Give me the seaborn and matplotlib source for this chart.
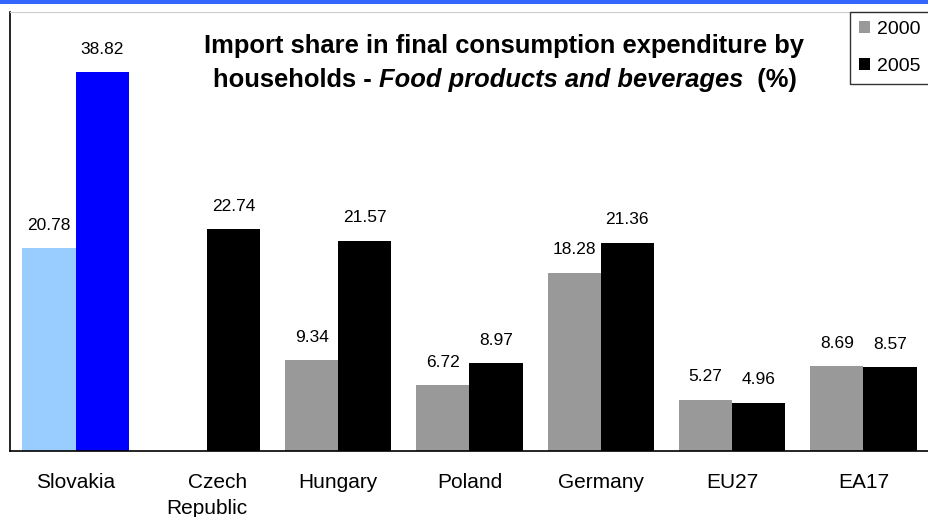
import numpy as np
import pandas as pd
import matplotlib.pyplot as plt
import seaborn as sns
from matplotlib.patches import Rectangle

# Data
countries = ["Slovakia", "Czech\nRepublic", "Hungary", "Poland", "Germany", "EU27", "EA17"]
share_2000 = [20.78, np.nan, 9.34, 6.72, 18.28, 5.27, 8.69]
share_2005 = [38.82, 22.74, 21.57, 8.97, 21.36, 4.96, 8.57]
years = ["2000", "2005"]

df = pd.DataFrame({
    "country": countries * 2,
    "year": [years[0]] * len(countries) + [years[1]] * len(countries),
    "share": share_2000 + share_2005,
})

sns.set_style("white")
plt.rcParams["font.family"] = ["Liberation Sans", "DejaVu Sans"]
plt.rcParams["text.color"] = "black"
plt.rcParams["xtick.color"] = "black"

fig = plt.figure(figsize=(9.29, 5.17), dpi=100)
ax = fig.add_axes([10 / 929, 66 / 517, 919 / 929, 439 / 517])

sns.barplot(
    data=df, x="country", y="share", hue="year",
    palette={"2000": "#999999", "2005": "#000000"},
    width=0.81, saturation=1, ax=ax, legend=True,
    edgecolor="none", linewidth=0,
)

# Slovakia highlighted in blue
highlight = {"2000": "#99ccff", "2005": "#0000ff"}
for cont, yr in zip(ax.containers, years):
    for patch in cont.patches:
        if abs(patch.get_x() + patch.get_width() / 2 - 0) < 0.5:
            patch.set_facecolor(highlight[yr])
    labels = []
    for patch in cont.patches:
        h = patch.get_height()
        labels.append("" if (h is None or np.isnan(h) or h == 0) else f"{h:.2f}")
    ax.bar_label(cont, labels=labels, padding=11, fontsize=12.5, color="black")

ax.set_xlim(-0.5, 6.5)
ax.set_ylim(0, 45)
ax.set_yticks([])
ax.set_xlabel("")
ax.set_ylabel("")
ax.tick_params(axis="x", length=0, pad=16, labelsize=15, labelcolor="black")
for lab in ax.get_xticklabels():
    lab.set_multialignment("right")
    lab.set_linespacing(1.45)

for side in ["left", "bottom"]:
    ax.spines[side].set_color("black")
    ax.spines[side].set_linewidth(1.2)
ax.spines["top"].set_color("#cccccc")
ax.spines["right"].set_visible(False)

leg = ax.legend(
    loc="upper right", bbox_to_anchor=(1.0, 1.0), fontsize=14,
    frameon=True, fancybox=False, edgecolor="black",
    handlelength=0.55, handleheight=0.55, handletextpad=0.35,
    borderpad=0.45, labelspacing=1.05, borderaxespad=0,
)
leg.get_frame().set_linewidth(1.0)

# Title with italic part
t1 = ax.text(0.537, 0.922, "Import share in final consumption expenditure by",
             transform=ax.transAxes, ha="center", va="center",
             fontsize=18.4, fontweight="bold")
t2a = ax.text(0.221, 0.845, "households - ", transform=ax.transAxes,
              ha="left", va="center", fontsize=18.4, fontweight="bold")
t2b = ax.annotate("Food products and beverages", xy=(1, 0), xycoords=t2a,
                  va="bottom", ha="left", fontsize=18.4, fontweight="bold",
                  fontstyle="italic")
t2c = ax.annotate("  (%)", xy=(1, 0), xycoords=t2b, va="bottom", ha="left",
                  fontsize=18.4, fontweight="bold")

# Blue header strip
fig.patches.append(Rectangle((0, 1 - 4 / 517), 1, 4 / 517, transform=fig.transFigure,
                             facecolor="#3366ff", edgecolor="none"))

fig.savefig("out.png", dpi=100)
